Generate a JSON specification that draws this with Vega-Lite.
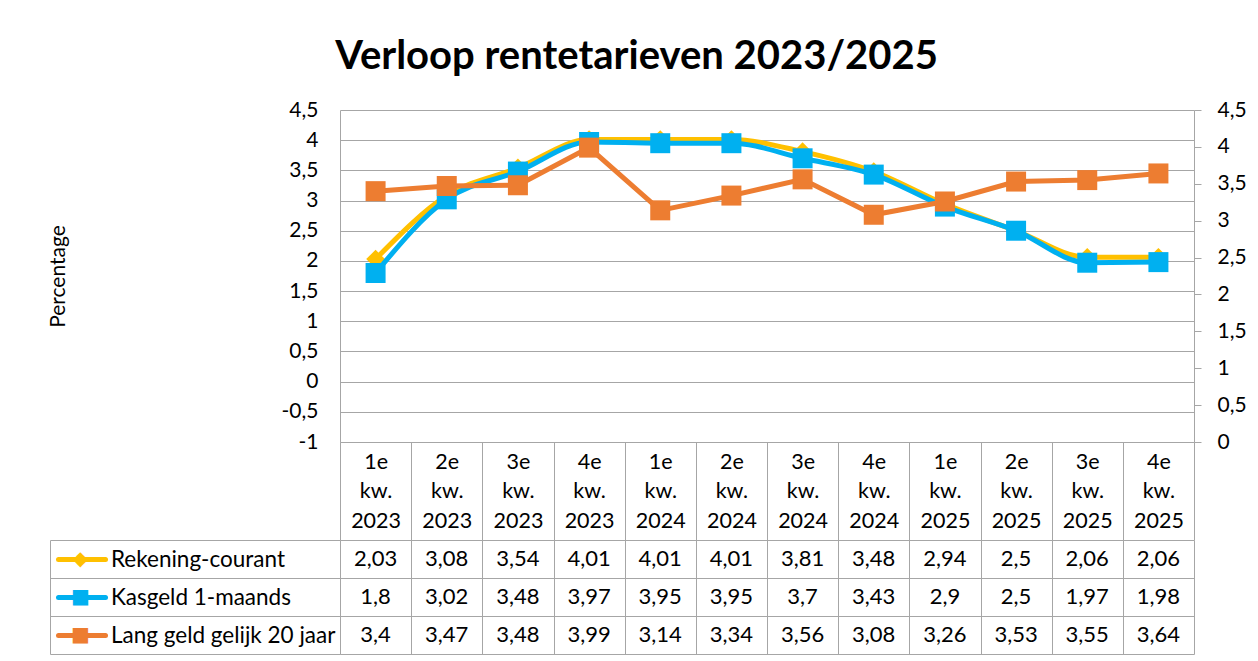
{
  "$schema": "https://vega.github.io/schema/vega-lite/v6.json",
  "background": "white",
  "padding": {"left": 47, "top": 37, "right": 5, "bottom": 5},
  "title": {"text": "Verloop rentetarieven 2023/2025", "fontSize": 40, "fontWeight": "bold", "font": "Lato", "color": "#000000", "anchor": "middle", "offset": 22, "dx": -10},
  "datasets": {
    "d": [
      {"kw": "1e kw. 2023", "series": "Rekening-courant", "value": 2.03},
      {"kw": "2e kw. 2023", "series": "Rekening-courant", "value": 3.08},
      {"kw": "3e kw. 2023", "series": "Rekening-courant", "value": 3.54},
      {"kw": "4e kw. 2023", "series": "Rekening-courant", "value": 4.01},
      {"kw": "1e kw. 2024", "series": "Rekening-courant", "value": 4.01},
      {"kw": "2e kw. 2024", "series": "Rekening-courant", "value": 4.01},
      {"kw": "3e kw. 2024", "series": "Rekening-courant", "value": 3.81},
      {"kw": "4e kw. 2024", "series": "Rekening-courant", "value": 3.48},
      {"kw": "1e kw. 2025", "series": "Rekening-courant", "value": 2.94},
      {"kw": "2e kw. 2025", "series": "Rekening-courant", "value": 2.5},
      {"kw": "3e kw. 2025", "series": "Rekening-courant", "value": 2.06},
      {"kw": "4e kw. 2025", "series": "Rekening-courant", "value": 2.06},
      {"kw": "1e kw. 2023", "series": "Kasgeld 1-maands", "value": 1.8},
      {"kw": "2e kw. 2023", "series": "Kasgeld 1-maands", "value": 3.02},
      {"kw": "3e kw. 2023", "series": "Kasgeld 1-maands", "value": 3.48},
      {"kw": "4e kw. 2023", "series": "Kasgeld 1-maands", "value": 3.97},
      {"kw": "1e kw. 2024", "series": "Kasgeld 1-maands", "value": 3.95},
      {"kw": "2e kw. 2024", "series": "Kasgeld 1-maands", "value": 3.95},
      {"kw": "3e kw. 2024", "series": "Kasgeld 1-maands", "value": 3.7},
      {"kw": "4e kw. 2024", "series": "Kasgeld 1-maands", "value": 3.43},
      {"kw": "1e kw. 2025", "series": "Kasgeld 1-maands", "value": 2.9},
      {"kw": "2e kw. 2025", "series": "Kasgeld 1-maands", "value": 2.5},
      {"kw": "3e kw. 2025", "series": "Kasgeld 1-maands", "value": 1.97},
      {"kw": "4e kw. 2025", "series": "Kasgeld 1-maands", "value": 1.98},
      {"kw": "1e kw. 2023", "series": "Lang geld gelijk 20 jaar", "value": 3.4},
      {"kw": "2e kw. 2023", "series": "Lang geld gelijk 20 jaar", "value": 3.47},
      {"kw": "3e kw. 2023", "series": "Lang geld gelijk 20 jaar", "value": 3.48},
      {"kw": "4e kw. 2023", "series": "Lang geld gelijk 20 jaar", "value": 3.99},
      {"kw": "1e kw. 2024", "series": "Lang geld gelijk 20 jaar", "value": 3.14},
      {"kw": "2e kw. 2024", "series": "Lang geld gelijk 20 jaar", "value": 3.34},
      {"kw": "3e kw. 2024", "series": "Lang geld gelijk 20 jaar", "value": 3.56},
      {"kw": "4e kw. 2024", "series": "Lang geld gelijk 20 jaar", "value": 3.08},
      {"kw": "1e kw. 2025", "series": "Lang geld gelijk 20 jaar", "value": 3.26},
      {"kw": "2e kw. 2025", "series": "Lang geld gelijk 20 jaar", "value": 3.53},
      {"kw": "3e kw. 2025", "series": "Lang geld gelijk 20 jaar", "value": 3.55},
      {"kw": "4e kw. 2025", "series": "Lang geld gelijk 20 jaar", "value": 3.64}
    ]
  },
  "data": {"name": "d"},
  "spacing": 98,
  "bounds": "flush",
  "resolve": {"scale": {"x": "independent", "y": "independent"}},
  "vconcat": [
    {
      "width": 854,
      "height": 332,
      "encoding": {
        "x": {
          "field": "kw", "type": "ordinal", "bandPosition": 0.5,
          "sort": ["1e kw. 2023", "2e kw. 2023", "3e kw. 2023", "4e kw. 2023", "1e kw. 2024", "2e kw. 2024", "3e kw. 2024", "4e kw. 2024", "1e kw. 2025", "2e kw. 2025", "3e kw. 2025", "4e kw. 2025"],
          "scale": {"type": "band", "paddingInner": 0, "paddingOuter": 0},
          "axis": {"title": null, "labelExpr": "split(datum.label, ' ')", "labelAngle": 0, "labelFontSize": 21.5, "labelLineHeight": 29.5, "labelBaseline": "top", "labelPadding": -89, "labelColor": "#000000", "labelOverlap": false, "tickBand": "extent", "tickSize": 98, "tickColor": "#a6a6a6", "domainColor": "#a6a6a6", "grid": false}
        }
      },
      "layer": [
        {
          "encoding": {
            "y": {"field": "value", "type": "quantitative", "scale": {"domain": [-1, 4.5], "nice": false, "zero": false},
              "axis": {"orient": "left", "title": "Percentage", "titleFontSize": 21, "titleFontWeight": "normal", "titleColor": "#000000", "titleX": -272, "values": [-1, -0.5, 0, 0.5, 1, 1.5, 2, 2.5, 3, 3.5, 4, 4.5], "labelExpr": "replace(datum.value + '', '.', ',')", "labelOverlap": false, "ticks": false, "labelPadding": 22, "labelFontSize": 21, "labelColor": "#000000", "grid": true, "gridColor": "#a6a6a6", "domain": true, "domainColor": "#a6a6a6"}}
          },
          "layer": [
            {
              "transform": [{"filter": "datum.series == 'Rekening-courant'"}],
              "mark": {"type": "line", "color": "#FFC000", "strokeWidth": 5, "interpolate": "monotone", "point": {"shape": "diamond", "size": 350, "filled": true, "color": "#FFC000", "opacity": 1}}
            },
            {
              "transform": [{"filter": "datum.series == 'Kasgeld 1-maands'"}],
              "mark": {"type": "line", "color": "#00B0F0", "strokeWidth": 5, "interpolate": "monotone", "point": {"shape": "square", "size": 400, "filled": true, "color": "#00B0F0", "opacity": 1}}
            }
          ]
        },
        {
          "transform": [{"filter": "datum.series == 'Lang geld gelijk 20 jaar'"}],
          "mark": {"type": "line", "color": "#ED7D31", "strokeWidth": 5, "point": {"shape": "square", "size": 400, "filled": true, "color": "#ED7D31", "opacity": 1}},
          "encoding": {
            "y": {"field": "value", "type": "quantitative", "scale": {"domain": [0, 4.5], "nice": false, "zero": false},
              "axis": {"orient": "right", "title": null, "values": [0, 0.5, 1, 1.5, 2, 2.5, 3, 3.5, 4, 4.5], "labelExpr": "replace(datum.value + '', '.', ',')", "labelOverlap": false, "ticks": true, "tickSize": 7, "tickColor": "#a6a6a6", "labelPadding": 16, "labelFontSize": 21, "labelColor": "#000000", "grid": false, "domain": true, "domainColor": "#a6a6a6"}}
          }
        }
      ],
      "resolve": {"scale": {"y": "independent"}}
    },
    {
      "width": 854,
      "height": 114,
      "encoding": {
        "x": {
          "field": "kw", "type": "ordinal", "bandPosition": 0.5,
          "sort": ["1e kw. 2023", "2e kw. 2023", "3e kw. 2023", "4e kw. 2023", "1e kw. 2024", "2e kw. 2024", "3e kw. 2024", "4e kw. 2024", "1e kw. 2025", "2e kw. 2025", "3e kw. 2025", "4e kw. 2025"],
          "scale": {"type": "band", "paddingInner": 0, "paddingOuter": 0},
          "axis": {"orient": "bottom", "title": null, "labels": false, "ticks": false, "domain": false, "grid": true, "tickBand": "extent", "gridColor": "#a6a6a6"}
        },
        "text": {"field": "value", "type": "quantitative", "format": "~g"}
      },
      "layer": [
        {
          "mark": {"type": "text", "fontSize": 22, "color": "#000000"},
          "encoding": {
            "y": {"field": "series", "type": "nominal", "bandPosition": 0.5, "sort": ["Rekening-courant", "Kasgeld 1-maands", "Lang geld gelijk 20 jaar"], "scale": {"type": "band", "paddingInner": 0, "paddingOuter": 0},
              "axis": {"orient": "left", "title": null, "labelAlign": "left", "labelBaseline": "middle", "labelPadding": -60.5, "labelFontSize": 22.5, "labelColor": "#000000", "labelLimit": 300, "tickBand": "extent", "ticks": true, "tickSize": 290, "tickColor": "#a6a6a6", "grid": true, "gridColor": "#a6a6a6", "domain": true, "domainColor": "#a6a6a6"}}
          }
        },
        {
          "mark": {"type": "text", "opacity": 0},
          "encoding": {
            "y": {"field": "series", "type": "nominal", "bandPosition": 0.5, "sort": ["Rekening-courant", "Kasgeld 1-maands", "Lang geld gelijk 20 jaar"], "scale": {"type": "band", "paddingInner": 0, "paddingOuter": 0},
              "axis": {"orient": "left", "offset": 282, "title": null, "labels": false, "grid": false, "domain": false, "ticks": true, "tickSize": -47, "tickWidth": 5, "tickCap": "round", "tickColor": {"condition": [{"test": "datum.value == 'Rekening-courant'", "value": "#FFC000"}, {"test": "datum.value == 'Kasgeld 1-maands'", "value": "#00B0F0"}], "value": "#ED7D31"}}}
          }
        },
        {
          "mark": {"type": "text", "opacity": 0},
          "encoding": {
            "y": {"field": "series", "type": "nominal", "bandPosition": 0.5, "sort": ["Rekening-courant", "Kasgeld 1-maands", "Lang geld gelijk 20 jaar"], "scale": {"type": "band", "paddingInner": 0, "paddingOuter": 0},
              "axis": {"orient": "left", "offset": 290, "title": null, "ticks": false, "grid": false, "domain": true, "domainColor": "#a6a6a6", "labelAlign": "center", "labelBaseline": "middle", "labelPadding": -30, "labelFont": "DejaVu Sans", "labelFontSize": 20, "labelExpr": "datum.value == 'Rekening-courant' ? '◆' : '■'", "labelColor": {"condition": [{"test": "datum.value == 'Rekening-courant'", "value": "#FFC000"}, {"test": "datum.value == 'Kasgeld 1-maands'", "value": "#00B0F0"}], "value": "#ED7D31"}}}
          }
        }
      ],
      "resolve": {"scale": {"y": "independent"}, "axis": {"y": "independent"}}
    }
  ],
  "config": {
    "font": "Lato",
    "view": {"stroke": null},
    "locale": {"number": {"decimal": ",", "thousands": ".", "grouping": [3], "currency": ["€ ", ""]}}
  }
}
